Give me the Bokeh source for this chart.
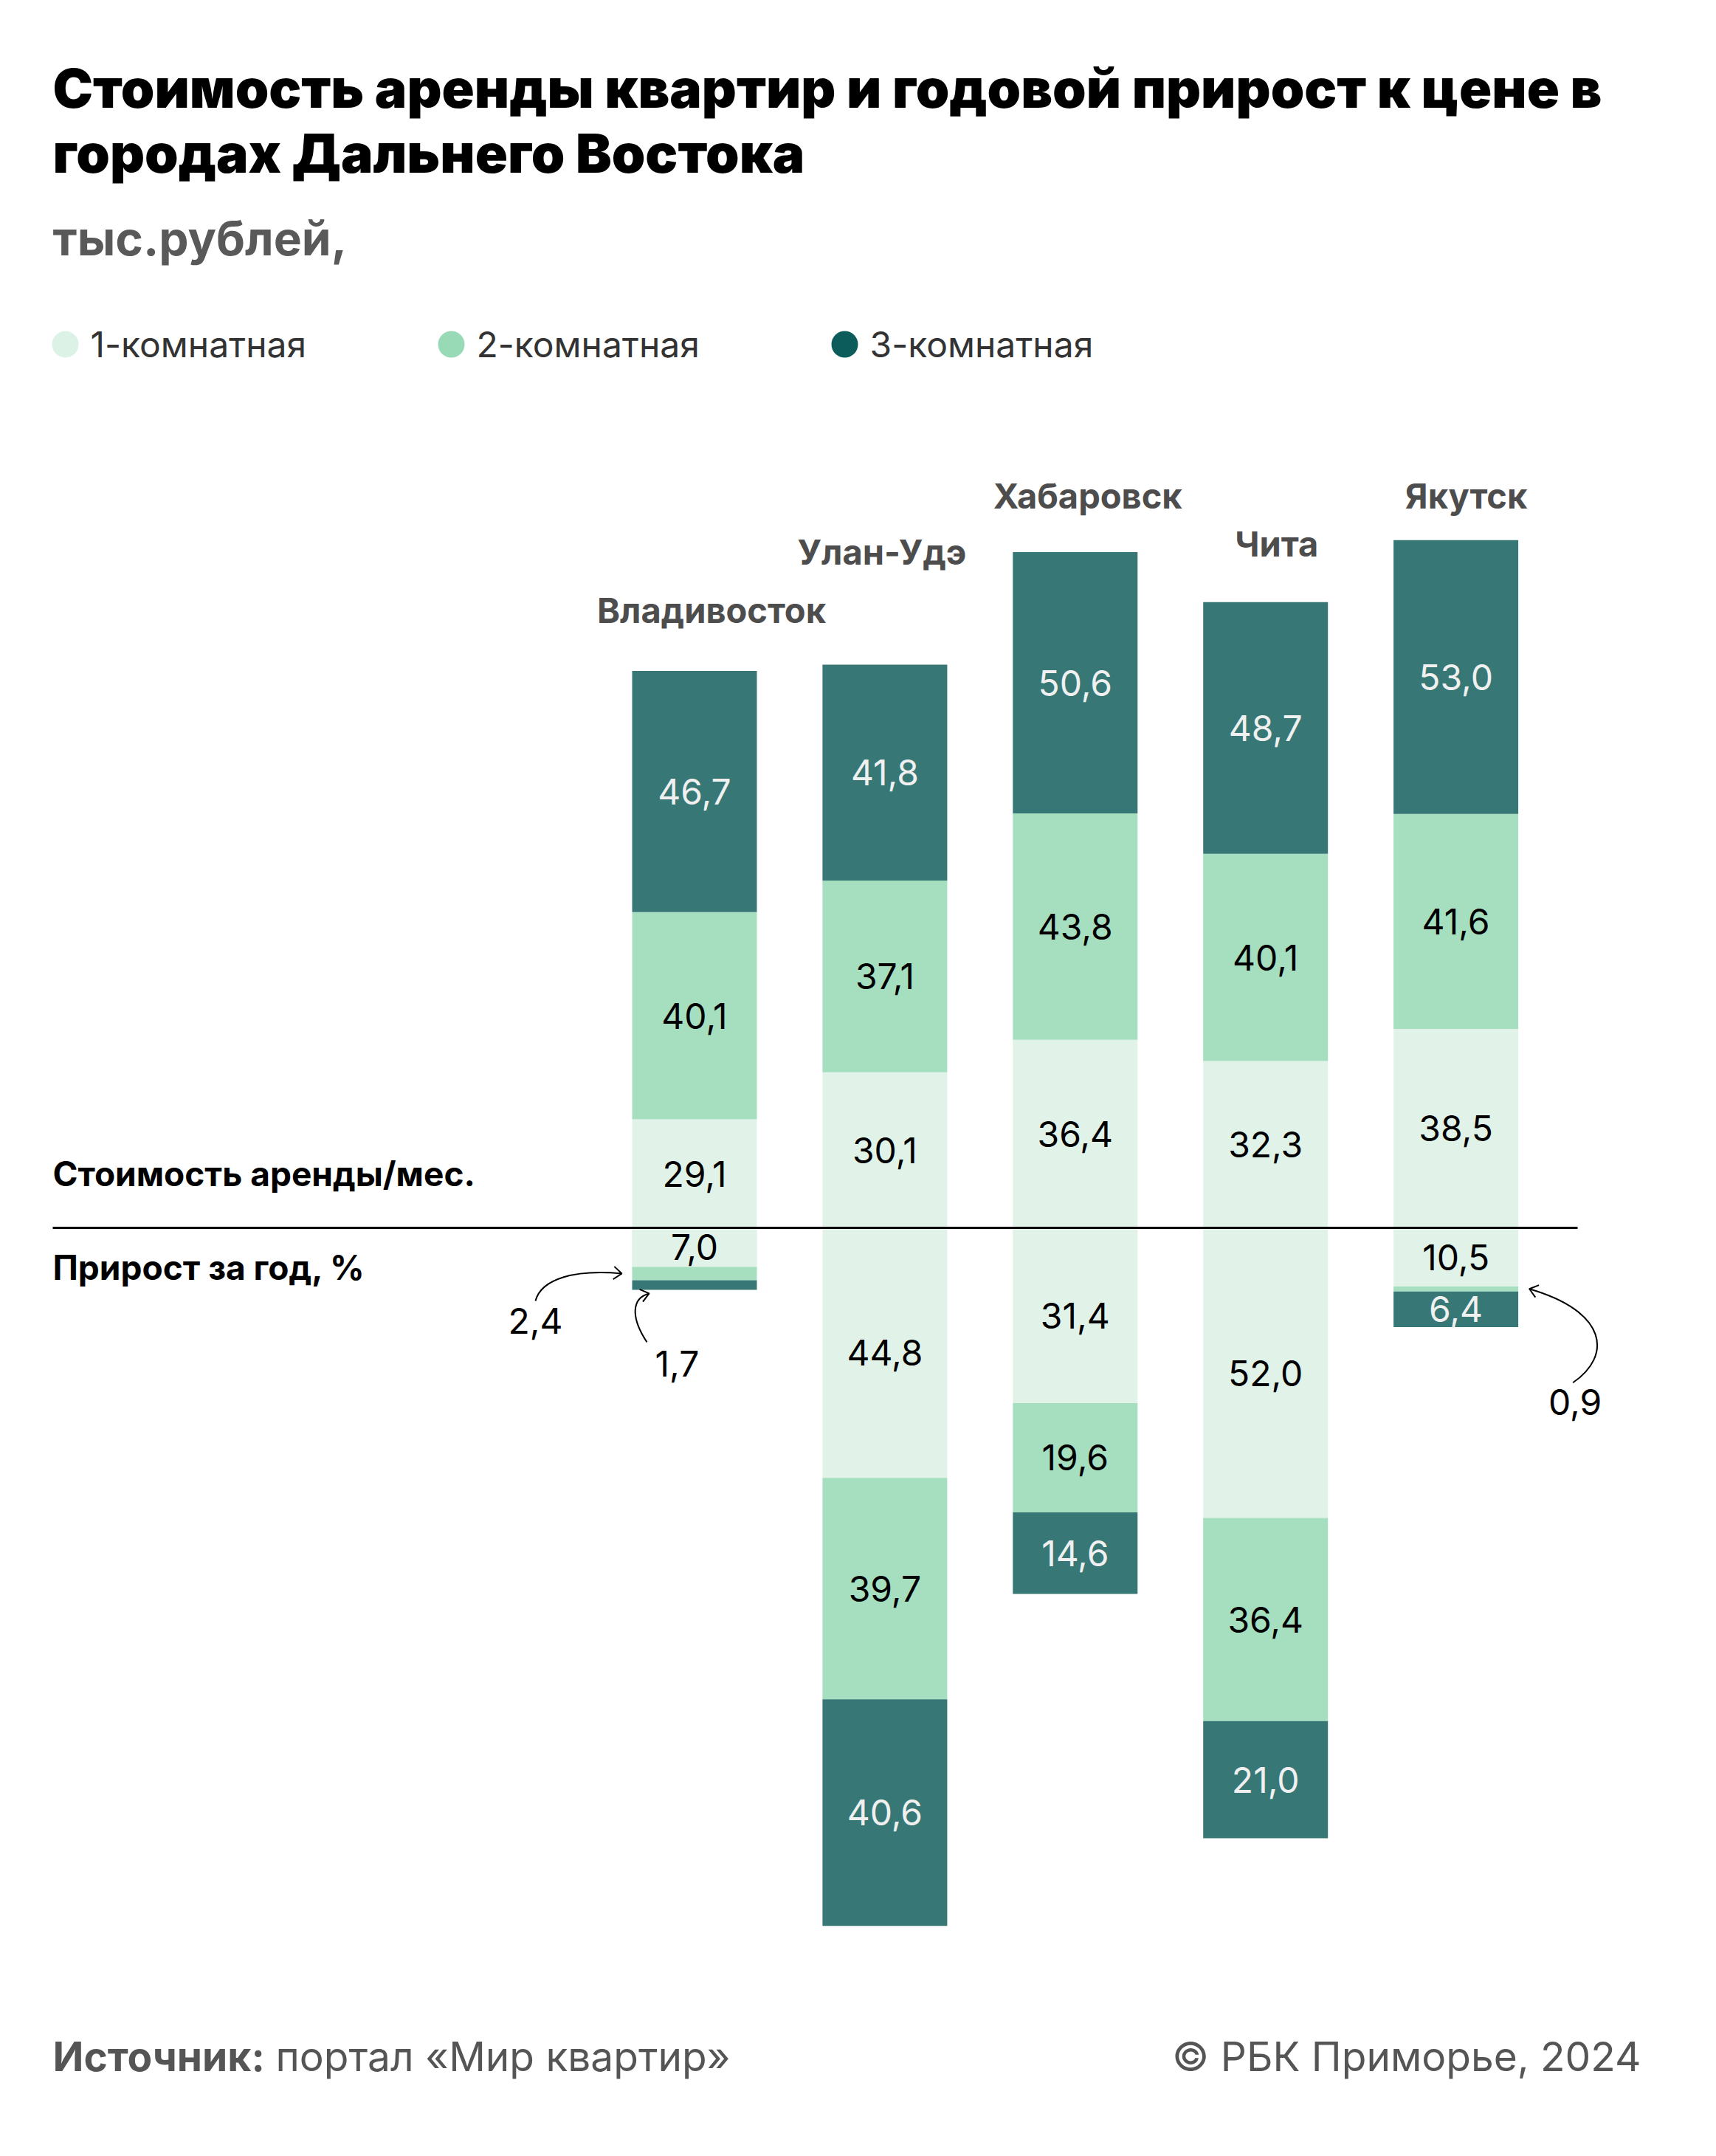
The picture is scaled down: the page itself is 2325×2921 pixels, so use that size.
import math
from bokeh.plotting import figure
from bokeh.models import Range1d, ColumnDataSource, Label
from bokeh.core.properties import value
from bokeh.embed import file_html
from bokeh.resources import INLINE

# ---------------- data ----------------
cities = ["Владивосток", "Улан-Удэ", "Хабаровск", "Чита", "Якутск"]
series_names = ["1-комнатная", "2-комнатная", "3-комнатная"]
rent_1 = [29.1, 30.1, 36.4, 32.3, 38.5]
rent_2 = [40.1, 37.1, 43.8, 40.1, 41.6]
rent_3 = [46.7, 41.8, 50.6, 48.7, 53.0]
growth_1 = [7.0, 44.8, 31.4, 52.0, 10.5]
growth_2 = [2.4, 39.7, 19.6, 36.4, 0.9]
growth_3 = [1.7, 40.6, 14.6, 21.0, 6.4]
rent_base = [-8.1, 0.0, 0.0, 0.0, 0.0]   # where each rent stack starts in the source graphic

# ---------------- layout / style (page pixels) ----------------
W, H = 2309, 2905
X0, DX = 940.5, 257.9          # px of first bar centre, px between bars
BASE = 1663.0                  # px (from top) of the zero line
RENT_PX, GROWTH_PX = 7.0, 7.56 # px per unit
BAR_W_PX = 169
FONT = "Inter"
TITLE_FONT = "'Inter Black', Inter"
bar_colors = ["#E1F3E9", "#A6DFC0", "#377876"]
dot_colors = ["#DCF2E6", "#98D9B6", "#0B5C5A"]
lbl_colors = ["#000000", "#000000", "#F0F0F0"]
city_dx = [23, -4, 17, 15, 14]
city_dy = [82, 153, 76, 79, 60]

def px_x(px):
    return (px - X0) / DX

def px_y(py):
    return (BASE - py) / RENT_PX

def fmt(v):
    return f"{v:.1f}".replace(".", ",")

p = figure(width=W, height=H, output_backend="svg", toolbar_location=None,
           x_range=Range1d(-X0 / DX, (W - X0) / DX),
           y_range=Range1d(-(H - BASE) / RENT_PX, BASE / RENT_PX),
           min_border=0, outline_line_color=None)
p.extra_y_ranges = {"growth": Range1d(-(H - BASE) / GROWTH_PX, BASE / GROWTH_PX)}
p.xaxis.visible = False
p.yaxis.visible = False
p.grid.visible = False
p.background_fill_color = "white"
p.border_fill_color = "white"

xs = list(range(len(cities)))
bw = BAR_W_PX / DX

# ---------- rent stacks (upwards) ----------
rent_series = [rent_1, rent_2, rent_3]
bottoms = list(rent_base)
lab_x, lab_y, lab_t, lab_c = [], [], [], []
for k, ser in enumerate(rent_series):
    tops = [b + v for b, v in zip(bottoms, ser)]
    p.vbar(x=xs, bottom=bottoms, top=tops, width=bw, fill_color=bar_colors[k], line_color=None)
    for i in xs:
        lo = max(bottoms[i], 0.0)
        lab_x.append(i); lab_y.append((lo + tops[i]) / 2); lab_t.append(fmt(ser[i])); lab_c.append(lbl_colors[k])
    bottoms = tops
rent_tops = bottoms
p.text(x="x", y="y", text="t", text_color="c",
       source=ColumnDataSource(dict(x=lab_x, y=lab_y, t=lab_t, c=lab_c)),
       text_align="center", text_baseline="middle",
       text_font=value(FONT), text_font_size=value("48px"))

# ---------- growth stacks (downwards) ----------
growth_series = [growth_1, growth_2, growth_3]
g_tops = [0.0] * len(cities)
gx, gy, gt, gc = [], [], [], []
small = []
for k, ser in enumerate(growth_series):
    g_bot = [t - v for t, v in zip(g_tops, ser)]
    p.vbar(x=xs, bottom=g_bot, top=g_tops, width=bw, fill_color=bar_colors[k], line_color=None,
           y_range_name="growth")
    for i in xs:
        if ser[i] * GROWTH_PX >= 40:
            gx.append(i); gy.append((g_tops[i] + g_bot[i]) / 2); gt.append(fmt(ser[i])); gc.append(lbl_colors[k])
        else:
            small.append((i, k, g_tops[i], g_bot[i], ser[i]))
    g_tops = g_bot
p.text(x="x", y="y", text="t", text_color="c",
       source=ColumnDataSource(dict(x=gx, y=gy, t=gt, c=gc)),
       text_align="center", text_baseline="middle",
       text_font=value(FONT), text_font_size=value("48px"), y_range_name="growth")

# ---------- zero line ----------
p.segment(x0=[px_x(71)], y0=[0], x1=[px_x(2137)], y1=[0], line_color="black", line_width=3)

# ---------- callouts for thin segments ----------
def bar_left(i):
    return X0 + i * DX - BAR_W_PX / 2

def bar_right(i):
    return X0 + i * DX + BAR_W_PX / 2

def gpx(v):
    return BASE + v * GROWTH_PX

callouts = []
for (i, k, top, bot, v) in small:
    mid = gpx(-(top + bot) / 2)
    if i == 0 and k == 1:
        end = (bar_left(i) - 14, mid)
        rel = dict(s=(-117, 37), c0=(-109, 7), c1=(-64, -6), t=(-117, 64))
    elif i == 0 and k == 2:
        end = (bar_left(i) + 23, gpx(-bot) + 5)
        rel = dict(s=(-3, 66), c0=(-26, 31), c1=(-23, 6), t=(38, 95))
    else:
        end = (bar_right(i) + 15, mid)
        rel = dict(s=(59, 127), c0=(112, 91), c1=(107, 31), t=(62, 153))
    callouts.append((end, rel, fmt(v)))

bz = dict(x0=[], y0=[], x1=[], y1=[], cx0=[], cy0=[], cx1=[], cy1=[])
heads_x, heads_y = [], []
for end, rel, txt in callouts:
    ex, ey = end
    sx, sy = ex + rel["s"][0], ey + rel["s"][1]
    c0x, c0y = ex + rel["c0"][0], ey + rel["c0"][1]
    c1x, c1y = ex + rel["c1"][0], ey + rel["c1"][1]
    bz["x0"].append(px_x(sx)); bz["y0"].append(px_y(sy))
    bz["x1"].append(px_x(ex)); bz["y1"].append(px_y(ey))
    bz["cx0"].append(px_x(c0x)); bz["cy0"].append(px_y(c0y))
    bz["cx1"].append(px_x(c1x)); bz["cy1"].append(px_y(c1y))
    dx, dy = ex - c1x, ey - c1y
    n = math.hypot(dx, dy)
    dx, dy = dx / n, dy / n
    L, a = 14, math.radians(38)
    hx, hy = [], []
    for sgn in (1, -1):
        ca, sa = math.cos(sgn * a), math.sin(sgn * a)
        rx, ry = dx * ca - dy * sa, dx * sa + dy * ca
        hx.append(px_x(ex - L * rx)); hy.append(px_y(ey - L * ry))
    heads_x.append([hx[0], px_x(ex), hx[1]]); heads_y.append([hy[0], px_y(ey), hy[1]])
    tx, ty = ex + rel["t"][0], ey + rel["t"][1]
    p.add_layout(Label(x=px_x(tx), y=px_y(ty), text=txt, text_font=FONT, text_font_size="48px",
                       text_align="center", text_baseline="middle", text_color="black"))
p.bezier(x0="x0", y0="y0", x1="x1", y1="y1", cx0="cx0", cy0="cy0", cx1="cx1", cy1="cy1",
         source=ColumnDataSource(bz), line_color="black", line_width=2)
p.multi_line(xs=heads_x, ys=heads_y, line_color="black", line_width=2)

# ---------- city labels ----------
cl_x = [i + city_dx[i] / DX for i in xs]
cl_y = [rent_tops[i] + city_dy[i] / RENT_PX for i in xs]
p.text(x=cl_x, y=cl_y, text=cities, text_align="center", text_baseline="middle",
       text_font=value(FONT), text_font_style="bold", text_font_size=value("47px"), text_color="#4D4D4D")

# ---------- side labels ----------
p.add_layout(Label(x=px_x(71), y=px_y(1589), text="Стоимость аренды/мес.", text_font=FONT,
                   text_font_size="46px", text_font_style="bold", text_color="black", text_baseline="middle"))
p.add_layout(Label(x=px_x(71), y=px_y(1716), text="Прирост за год, %", text_font=FONT,
                   text_font_size="46px", text_font_style="bold", text_color="black", text_baseline="middle"))

# ---------- title ----------
p.add_layout(Label(x=px_x(71), y=px_y(119), text="Стоимость аренды квартир и годовой прирост к цене в",
                   text_font=TITLE_FONT, text_font_size="73px", text_font_style="bold", text_color="black",
                   text_baseline="middle"))
p.add_layout(Label(x=px_x(71), y=px_y(207), text="городах Дальнего Востока",
                   text_font=TITLE_FONT, text_font_size="73px", text_font_style="bold", text_color="black",
                   text_baseline="middle"))
p.add_layout(Label(x=px_x(71), y=px_y(322), text="тыс.рублей,", text_font=FONT, text_font_size="64px",
                   text_font_style="bold", text_color="#595959", text_baseline="middle"))

# ---------- legend ----------
leg_dot_px = [88, 611, 1144]
leg_y = 466
p.scatter(x=[px_x(v) for v in leg_dot_px], y=[px_y(leg_y)] * 3, size=36, fill_color=dot_colors, line_color=None)
for k, name in enumerate(series_names):
    p.add_layout(Label(x=px_x(leg_dot_px[k] + 34), y=px_y(leg_y), text=name, text_font=FONT,
                       text_font_size="48px", text_color="#333333", text_baseline="middle"))

# ---------- footer ----------
p.add_layout(Label(x=px_x(71), y=px_y(2785), text="Источник:", text_font=FONT, text_font_size="55px",
                   text_font_style="bold", text_color="#555555", text_baseline="middle"))
p.add_layout(Label(x=px_x(373), y=px_y(2785), text="портал «Мир квартир»", text_font=FONT,
                   text_font_size="55px", text_color="#555555", text_baseline="middle"))
p.add_layout(Label(x=px_x(2223), y=px_y(2785), text="© РБК Приморье, 2024", text_font=FONT,
                   text_font_size="55px", text_color="#555555", text_align="right", text_baseline="middle"))

open("out.html", "w").write(file_html(p, INLINE))
